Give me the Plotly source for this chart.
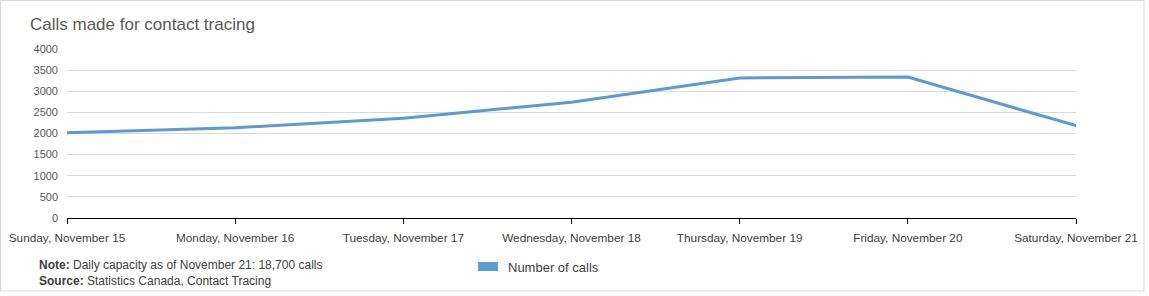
import plotly.graph_objects as go

days = ["Sunday, November 15", "Monday, November 16", "Tuesday, November 17",
        "Wednesday, November 18", "Thursday, November 19", "Friday, November 20",
        "Saturday, November 21"]
calls = [2020, 2135, 2360, 2740, 3315, 3335, 2185]
y_ticks = [0, 500, 1000, 1500, 2000, 2500, 3000, 3500, 4000]

title_text = "Calls made for contact tracing"
series_name = "Number of calls"
note_text = "<b>Note:</b> Daily capacity as of November 21: 18,700 calls"
source_text = "<b>Source:</b> Statistics Canada, Contact Tracing"

FONT = "Liberation Sans"
BLUE = "#5B9BD5"

W, H = 1149, 296
L, R, T, B = 67, 73, 49, 78
pw, ph = W - L - R, H - T - B

def px(x):
    return (x - L) / pw

def py(y):
    return (H - B - y) / ph

fig = go.Figure()
fig.add_trace(go.Scatter(x=days, y=calls, mode="lines", name=series_name,
                         line=dict(color=BLUE, width=3), showlegend=False))

fig.update_layout(
    width=W, height=H,
    margin=dict(l=L, r=R, t=T, b=B, autoexpand=False),
    paper_bgcolor="white", plot_bgcolor="white",
    font=dict(family=FONT, size=11, color="#595959"),
    xaxis=dict(type="category", range=[0, len(days) - 1], showgrid=False,
               automargin=False,
               showline=True, linecolor="black", linewidth=1,
               ticks="outside", ticklen=5, tickcolor="black",
               tickfont=dict(size=11.8, color="#404040"), ticklabelstandoff=4),
    yaxis=dict(range=[0, 4000], tickvals=y_ticks, showgrid=True,
               automargin=False,
               gridcolor="#D9D9D9", gridwidth=1, zeroline=False,
               tickfont=dict(size=11, color="#595959"), ticklabelstandoff=8),
    shapes=[
        dict(type="rect", xref="paper", yref="paper",
             x0=px(0.5), x1=px(1144), y0=py(291), y1=py(0.5),
             line=dict(color="#D9D9D9", width=1), layer="below"),
        dict(type="rect", xref="paper", yref="paper",
             x0=px(478), x1=px(498), y0=py(271), y1=py(262),
             line=dict(width=0), fillcolor=BLUE),
    ],
    annotations=[
        dict(text=title_text, xref="paper", yref="paper", x=px(28), y=py(25),
             xanchor="left", yanchor="middle", showarrow=False,
             font=dict(size=17, color="#595959")),
        dict(text=note_text, xref="paper", yref="paper", x=px(37), y=py(265),
             xanchor="left", yanchor="middle", showarrow=False,
             font=dict(size=12, color="#404040")),
        dict(text=source_text, xref="paper", yref="paper", x=px(37), y=py(281),
             xanchor="left", yanchor="middle", showarrow=False,
             font=dict(size=12, color="#404040")),
        dict(text=series_name, xref="paper", yref="paper", x=px(506), y=py(267),
             xanchor="left", yanchor="middle", showarrow=False,
             font=dict(size=13, color="#404040")),
    ],
)

fig.write_html("out.html")
